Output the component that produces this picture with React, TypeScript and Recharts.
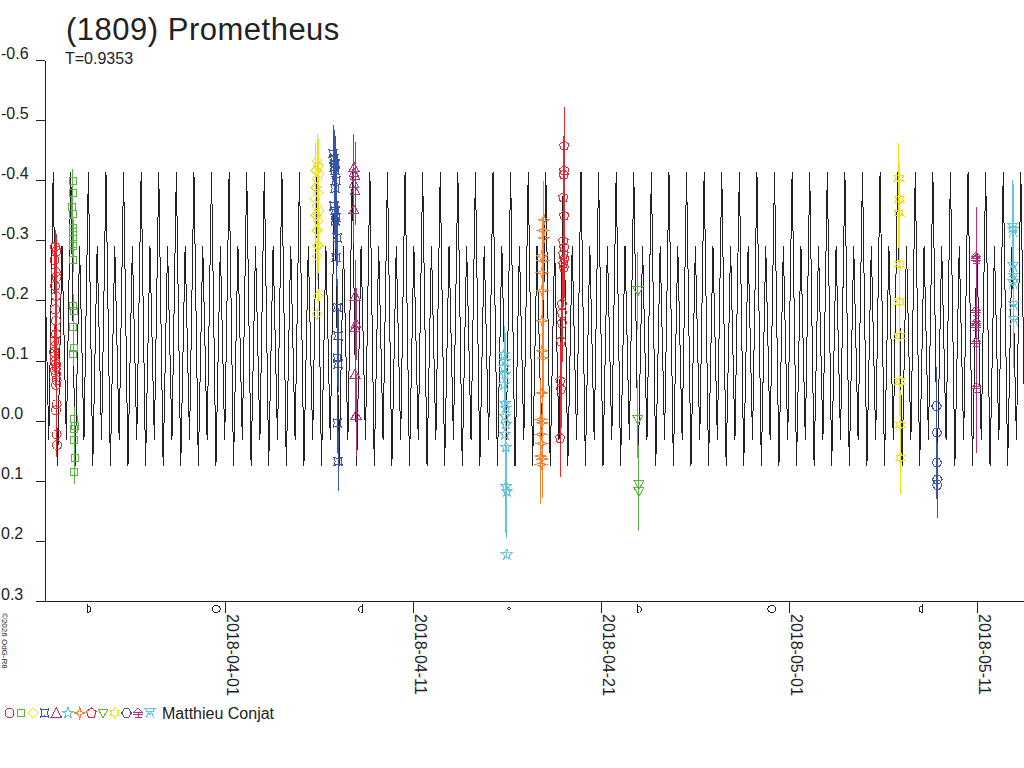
import React from 'react';
import { ComposedChart, Line, Scatter, XAxis, YAxis, ErrorBar } from 'recharts';

// ---- axis / labels ----
const X_DOMAIN = [-9.585, 42.46]; // days from 2018-04-01 00:00 UT
const DATE_TICKS = [0, 10, 20, 30, 40];
const DATE_LABELS = ['2018-04-01', '2018-04-11', '2018-04-21', '2018-05-01', '2018-05-11'];
const Y_TICKS = [-0.6, -0.5, -0.4, -0.3, -0.2, -0.1, 0, 0.1, 0.2, 0.3];
const MOON_T = [-7.35, -0.474, 7.304, 15.081, 21.907, 29.04, 37.09];
const MOON_KIND = ['fq', 'full', 'lq', 'new', 'fq', 'full', 'lq'];

// ---- model lightcurve: one cycle, period T ----
const PERIOD = 0.9353;
const EPOCH = 17.039; // time of a primary maximum
const CYCLE_PHASE = [0, 0.25, 0.5, 0.75];
const CYCLE_MAG = [-0.414, 0.075, -0.292, 0.031];

// ---- observation sessions: [t (days), mag, error] ----
const s01 = [[-9.05,-0.290,0.028],[-8.97,-0.283,0.028],[-9.08,-0.268,0.028],[-9.02,-0.248,0.028],[-8.97,-0.240,0.028],[-9.05,-0.225,0.028],[-9.0,-0.208,0.028],[-9.05,-0.186,0.028],[-9.0,-0.167,0.028],[-9.0,-0.145,0.028],[-9.08,-0.133,0.028],[-9.05,-0.125,0.028],[-9.1,-0.115,0.028],[-9.08,-0.108,0.028],[-9.05,-0.100,0.028],[-9.0,-0.095,0.028],[-8.97,-0.090,0.028],[-9.05,-0.085,0.028],[-9.0,-0.078,0.028],[-8.97,-0.068,0.028],[-9.0,-0.060,0.028],[-8.97,-0.028,0.028],[-9.0,-0.018,0.028],[-8.97,0.022,0.022],[-8.95,0.040,0.02]];
const s02 = [[-8.12,-0.400,0.02],[-8.12,-0.380,0.02],[-8.15,-0.357,0.02],[-8.1,-0.345,0.02],[-8.12,-0.322,0.02],[-8.08,-0.315,0.02],[-8.12,-0.303,0.02],[-8.08,-0.295,0.02],[-8.1,-0.292,0.02],[-8.08,-0.268,0.02],[-8.08,-0.192,0.02],[-8.06,-0.183,0.02],[-8.08,-0.157,0.02],[-8.06,-0.122,0.02],[-8.08,-0.112,0.02],[-8.02,-0.003,0.02],[-8.0,0.008,0.02],[-8.04,0.013,0.02],[-8.02,0.032,0.02],[-8.0,0.061,0.02],[-8.02,0.085,0.02]];
const s03 = [[4.88,-0.433,0.045],[4.93,-0.425,0.045],[4.82,-0.417,0.045],[4.98,-0.411,0.045],[4.88,-0.403,0.045],[4.82,-0.389,0.045],[4.93,-0.380,0.045],[4.77,-0.370,0.045],[4.88,-0.358,0.045],[4.98,-0.350,0.045],[4.82,-0.342,0.045],[4.93,-0.333,0.045],[4.88,-0.317,0.045],[4.93,-0.292,0.045],[4.88,-0.275,0.04],[4.93,-0.208,0.012],[4.88,-0.178,0.01]];
const s04 = [[5.73,-0.445,0.047],[5.78,-0.437,0.047],[5.84,-0.428,0.047],[5.78,-0.422,0.047],[5.84,-0.417,0.047],[5.89,-0.400,0.047],[5.84,-0.387,0.047],[5.78,-0.358,0.047],[5.84,-0.350,0.047],[5.89,-0.339,0.047],[5.84,-0.333,0.047],[5.95,-0.305,0.047],[5.89,-0.272,0.047],[5.95,-0.189,0.047],[6.0,-0.142,0.047],[5.95,-0.105,0.047],[6.0,-0.095,0.047],[5.95,0.003,0.05],[6.0,0.067,0.05]];
const s05 = [[6.84,-0.422,0.056],[6.84,-0.413,0.056],[6.9,-0.408,0.056],[6.84,-0.395,0.056],[6.9,-0.383,0.056],[6.84,-0.352,0.056],[6.9,-0.208,0.06],[6.95,-0.162,0.06],[6.9,-0.155,0.06],[6.9,-0.078,0.06],[6.95,-0.010,0.068]];
const s06 = [[14.82,-0.111,0.047],[14.87,-0.100,0.047],[14.82,-0.089,0.047],[14.87,-0.078,0.047],[14.82,-0.061,0.047],[14.87,-0.030,0.047],[14.92,-0.022,0.047],[14.87,-0.008,0.05],[14.92,0.005,0.05],[14.87,0.022,0.05],[14.92,0.043,0.06],[14.92,0.108,0.078],[14.97,0.117,0.078],[14.97,0.222,0.004]];
const s07 = [[16.94,-0.335,0.065],[16.89,-0.317,0.065],[16.94,-0.305,0.065],[16.84,-0.275,0.065],[16.89,-0.267,0.065],[16.84,-0.247,0.065],[16.84,-0.217,0.065],[16.84,-0.167,0.065],[16.84,-0.117,0.065],[16.89,-0.105,0.065],[16.84,-0.047,0.065],[16.78,-0.003,0.065],[16.84,0.003,0.065],[16.78,0.022,0.065],[16.84,0.037,0.065],[16.78,0.058,0.065],[16.84,0.063,0.065],[16.78,0.072,0.065]];
const s08 = [[18.02,-0.458,0.065],[18.02,-0.417,0.065],[17.99,-0.410,0.065],[17.97,-0.372,0.065],[18.02,-0.342,0.065],[17.97,-0.300,0.065],[18.02,-0.289,0.065],[17.97,-0.278,0.065],[18.02,-0.270,0.065],[17.97,-0.262,0.065],[18.0,-0.255,0.065],[17.9,-0.195,0.065],[17.9,-0.180,0.065],[17.9,-0.163,0.065],[17.85,-0.133,0.065],[17.82,-0.067,0.065],[17.85,-0.053,0.065],[17.8,0.028,0.065]];
const s09 = [[21.93,-0.217,0.065],[21.93,-0.003,0.065],[21.99,0.105,0.065],[21.99,0.117,0.065]];
const s10 = [[35.81,-0.404,0.058],[35.84,-0.369,0.058],[35.81,-0.346,0.058],[35.84,-0.261,0.058],[35.84,-0.199,0.058],[35.86,-0.142,0.058],[35.86,-0.066,0.058],[35.88,0.006,0.058],[35.9,0.061,0.06]];
const s11 = [[37.81,-0.025,0.065],[37.83,0.019,0.06],[37.83,0.069,0.06],[37.85,0.097,0.06],[37.85,0.106,0.055]];
const s12 = [[39.91,-0.273,0.083],[39.91,-0.269,0.083],[39.91,-0.183,0.09],[39.93,-0.164,0.09],[39.93,-0.158,0.09],[39.93,-0.131,0.09],[39.93,-0.056,0.109]];
const s13 = [[41.86,-0.322,0.08],[41.88,-0.314,0.08],[41.88,-0.256,0.08],[41.9,-0.239,0.08],[41.88,-0.228,0.08],[41.9,-0.192,0.08],[41.92,-0.167,0.079]];

const OBSERVER = 'Matthieu Conjat';
const TITLE = '(1809) Prometheus';
const SUBTITLE = 'T=0.9353';
const COPYRIGHT = '©2026 OdG-R8';

// ---- styles ----
const FONT = '"Liberation Sans", Arial, Helvetica, sans-serif';
const INK = '#222222';
const SESSIONS = [
  { data: s01, shape: 'circle', color: '#e8262d' },
  { data: s02, shape: 'square', color: '#5bb246' },
  { data: s03, shape: 'diamond', color: '#f2e20c' },
  { data: s04, shape: 'astroid', color: '#3a54a4' },
  { data: s05, shape: 'triUp', color: '#b5307f' },
  { data: s06, shape: 'star5', color: '#63c6d8' },
  { data: s07, shape: 'star4', color: '#f58430' },
  { data: s08, shape: 'pentagon', color: '#e8262d' },
  { data: s09, shape: 'triDown', color: '#5bb246' },
  { data: s10, shape: 'star6', color: '#f2e20c' },
  { data: s11, shape: 'hexagon', color: '#3a54a4' },
  { data: s12, shape: 'totem', color: '#b5307f' },
  { data: s13, shape: 'triDownLegs', color: '#63c6d8' },
];

const toRows = (arr: number[][]) => arr.map(([t, m, e]) => ({ t, m, e }));

function buildModel() {
  const rows: { t: number; m: number }[] = [];
  const n0 = Math.floor((X_DOMAIN[0] - EPOCH) / PERIOD) - 1;
  const n1 = Math.ceil((X_DOMAIN[1] - EPOCH) / PERIOD) + 1;
  for (let n = n0; n <= n1; n++) {
    for (let k = 0; k < CYCLE_PHASE.length; k++) {
      rows.push({ t: EPOCH + (n + CYCLE_PHASE[k]) * PERIOD, m: CYCLE_MAG[k] });
    }
  }
  return rows;
}
const MODEL = buildModel();

function polygon(n: number, r: number, rot: number) {
  const pts: string[] = [];
  for (let i = 0; i < n; i++) {
    const a = rot + (i * 2 * Math.PI) / n;
    pts.push(`${(r * Math.cos(a)).toFixed(2)},${(r * Math.sin(a)).toFixed(2)}`);
  }
  return pts.join(' ');
}
function star(n: number, ro: number, ri: number) {
  const pts: string[] = [];
  for (let i = 0; i < 2 * n; i++) {
    const a = -Math.PI / 2 + (i * Math.PI) / n;
    const r = i % 2 === 0 ? ro : ri;
    pts.push(`${(r * Math.cos(a)).toFixed(2)},${(r * Math.sin(a)).toFixed(2)}`);
  }
  return pts.join(' ');
}

function Marker({ kind, cx, cy, color }: { kind: string; cx: number; cy: number; color: string }) {
  if (cx == null || cy == null || isNaN(cx) || isNaN(cy)) return null;
  const p = { fill: 'none', stroke: color, strokeWidth: 1 };
  let el: React.ReactNode = null;
  switch (kind) {
    case 'circle': el = <circle r={4.5} {...p} />; break;
    case 'square': el = <rect x={-3.5} y={-3.5} width={7} height={7} {...p} />; break;
    case 'diamond': el = <polygon points="0,-5 5,0 0,5 -5,0" {...p} />; break;
    case 'astroid': el = <path d="M-4.5,-4.5 Q0,-1.5 4.5,-4.5 Q1.5,0 4.5,4.5 Q0,1.5 -4.5,4.5 Q-1.5,0 -4.5,-4.5 Z" {...p} />; break;
    case 'triUp': el = <polygon points="0,-5 5,4 -5,4" {...p} />; break;
    case 'star5': el = <polygon points={star(5, 5.5, 2.4)} {...p} />; break;
    case 'star4': el = <polygon points={star(4, 5.5, 1.8)} {...p} />; break;
    case 'pentagon': el = <polygon points={polygon(5, 5, -Math.PI / 2)} {...p} />; break;
    case 'triDown': el = <polygon points="-5,-4 5,-4 0,5" {...p} />; break;
    case 'star6': el = <polygon points={star(6, 5.5, 2.8)} {...p} />; break;
    case 'hexagon': el = <polygon points={polygon(6, 4.8, 0)} {...p} />; break;
    case 'totem': el = <path d="M-4,-1 L0,-5 L4,-1 Z M-5,1 H5 M0,-1 V4.5 M-3.5,4.5 H3.5" {...p} />; break;
    case 'triDownLegs': el = <path d="M-5,-4.5 H5 L0,1.5 Z M-4,-1.5 H4 M-2,0 L-4,5 M2,0 L4,5" {...p} />; break;
    default: el = null;
  }
  return <g transform={`translate(${cx},${cy})`}>{el}</g>;
}

const fmtY = (v: number) => (Math.abs(v) < 1e-9 ? '0.0' : v.toFixed(1));

function YTick(props: any) {
  const { x, y, payload } = props;
  return (
    <g>
      <line x1={x - 9} x2={x} y1={y} y2={y} stroke={INK} strokeWidth={1} />
      <text x={x - 44} y={y - 2} fontSize={16} fill={INK} fontFamily={FONT} textAnchor="start">
        {fmtY(payload.value)}
      </text>
    </g>
  );
}

function XTick(props: any) {
  const { x, y, payload } = props;
  const v = payload.value;
  const di = DATE_TICKS.indexOf(v);
  if (di >= 0) {
    return (
      <g>
        <line x1={x} x2={x} y1={y} y2={y + 11} stroke={INK} strokeWidth={1} />
        <text transform={`translate(${x + 1.5},${y + 12.5}) rotate(90)`} fontSize={16} fill={INK} fontFamily={FONT} textAnchor="start">
          {DATE_LABELS[di]}
        </text>
      </g>
    );
  }
  const mi = MOON_T.indexOf(v);
  if (mi < 0) return null;
  const kind = MOON_KIND[mi];
  const s = { fill: 'none', stroke: INK, strokeWidth: 1 };
  if (kind === 'full') return <ellipse cx={x} cy={y + 7.5} rx={3.8} ry={3.5} {...s} />;
  if (kind === 'new') return <circle cx={x} cy={y + 7} r={1.2} {...s} />;
  if (kind === 'fq')
    return <path d={`M${x},${y + 2} V${y + 11} M${x},${y + 4.5} A4 3.25 0 0 1 ${x},${y + 11}`} {...s} />;
  return <path d={`M${x},${y + 2} V${y + 11} M${x},${y + 4.5} A4 3.25 0 0 0 ${x},${y + 11}`} {...s} />;
}

export default function App() {
  return (
    <div className="lc-root" style={{ position: 'absolute', left: 0, top: 0, width: 1024, height: 768, background: '#fff' }}>
      <style>{`.lc-root svg path, .lc-root svg line, .lc-root svg polygon, .lc-root svg circle, .lc-root svg rect, .lc-root svg ellipse { shape-rendering: crispEdges; }`}</style>
      <ComposedChart width={1024} height={768} margin={{ top: 60.5, right: 0, bottom: 66.5, left: 0 }}>
        <XAxis
          type="number"
          dataKey="t"
          domain={X_DOMAIN}
          allowDataOverflow
          ticks={[...DATE_TICKS, ...MOON_T]}
          interval={0}
          tick={<XTick />}
          tickLine={false}
          tickSize={0}
          tickMargin={0}
          height={100}
          axisLine={{ stroke: INK, strokeWidth: 1 }}
        />
        <YAxis
          type="number"
          dataKey="m"
          domain={[-0.6, 0.3]}
          reversed
          allowDataOverflow
          ticks={Y_TICKS}
          interval={0}
          tick={<YTick />}
          tickLine={false}
          tickSize={0}
          tickMargin={0}
          width={45}
          axisLine={{ stroke: INK, strokeWidth: 1 }}
        />
        <Line
          data={MODEL}
          dataKey="m"
          type="linear"
          stroke={INK}
          strokeWidth={1}
          dot={false}
          activeDot={false}
          isAnimationActive={false}
        />
        {SESSIONS.map((s, i) => (
          <Scatter
            key={i}
            data={toRows(s.data)}
            dataKey="m"
            isAnimationActive={false}
            shape={(p: any) => <Marker kind={s.shape} cx={p.cx} cy={p.cy} color={s.color} />}
          >
            <ErrorBar dataKey="e" direction="y" width={0} stroke={s.color} strokeWidth={1} isAnimationActive={false} />
          </Scatter>
        ))}
      </ComposedChart>
      <svg width={1024} height={768} style={{ position: 'absolute', left: 0, top: 0, pointerEvents: 'none' }}>
        <text x={66} y={39.5} fontSize={31} letterSpacing={0.5} fill={INK} fontFamily={FONT}>{TITLE}</text>
        <text x={65} y={64} fontSize={16} fill={INK} fontFamily={FONT}>{SUBTITLE}</text>
        <text transform="translate(2,613) rotate(90)" fontSize={8} fill={INK} fontFamily={FONT}>{COPYRIGHT}</text>
        {SESSIONS.map((s, i) => (
          <Marker key={i} kind={s.shape} cx={9.5 + i * 11.7} cy={713} color={s.color} />
        ))}
        <text x={162} y={718.5} fontSize={16} fill={INK} fontFamily={FONT}>{OBSERVER}</text>
      </svg>
    </div>
  );
}
